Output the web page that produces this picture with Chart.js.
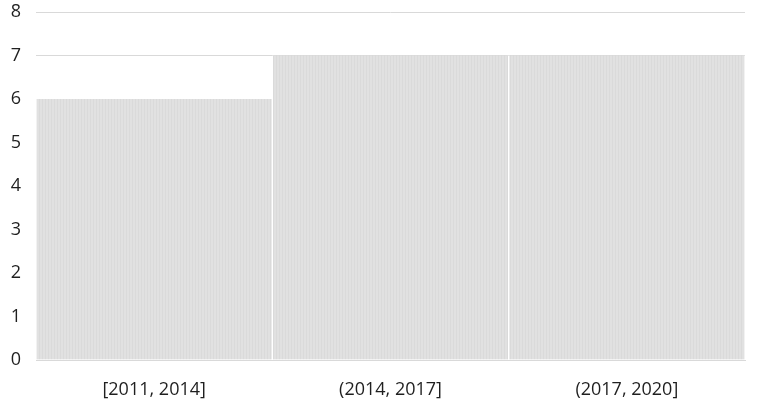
<!DOCTYPE html>
<html>
<head>
<meta charset="utf-8">
<script src="https://cdn.jsdelivr.net/npm/chart.js@4"></script>
<style>
  html, body { margin: 0; padding: 0; background: #ffffff; }
  #wrap { width: 758px; height: 415px; }
</style>
</head>
<body>
<div id="wrap"><canvas id="hist-chart" width="758" height="415"></canvas></div>
<script>
// ==============================
// Data
// ==============================
const binLabels = ["[2011, 2014]", "(2014, 2017]", "(2017, 2020]"];
const binCounts = [6, 7, 7];
const yTickMax = 8;

// ==============================
// Striped fill (fine vertical lines)
// ==============================
function makeStripes() {
    const c = document.createElement("canvas");
    c.width = 3;
    c.height = 4;
    const ctx = c.getContext("2d");
    ctx.fillStyle = "#e1e1e1";
    ctx.fillRect(0, 0, 3, 4);
    ctx.fillStyle = "#dadada";
    ctx.fillRect(0, 0, 1, 4);
    return ctx.createPattern(c, "repeat");
}

// ==============================
// Create Chart
// ==============================
const histCanvas = document.getElementById("hist-chart");
const tickFont = { family: "'Open Sans', 'Liberation Sans', sans-serif", size: 18 };

new Chart(histCanvas, {
    type: "bar",
    data: {
        labels: binLabels,
        datasets: [
            {
                data: binCounts,
                backgroundColor: makeStripes(),
                borderColor: "#ffffff",
                borderWidth: { left: 1, right: 1, top: 0, bottom: 0 },
                barPercentage: 1,
                categoryPercentage: 1
            }
        ]
    },
    options: {
        responsive: false,
        animation: false,
        layout: { padding: { top: 12, right: 13, bottom: 0, left: 0 } },
        plugins: {
            legend: { display: false },
            tooltip: { enabled: false }
        },
        scales: {
            x: {
                grid: { display: false, drawTicks: false },
                border: { color: "#d9d9d9", width: 1 },
                ticks: { color: "#1f1f1f", font: tickFont, padding: 19 },
                afterFit: function (scale) {
                    scale.height = 55;
                    scale.paddingLeft = 0;
                    scale.paddingRight = 0;
                }
            },
            y: {
                min: 0,
                max: yTickMax,
                grid: { color: "#d9d9d9", drawTicks: false },
                border: { display: false },
                ticks: { stepSize: 1, color: "#1f1f1f", font: tickFont, padding: 15 },
                afterFit: function (scale) {
                    scale.width = 36;
                    scale.paddingTop = 0;
                    scale.paddingBottom = 0;
                }
            }
        }
    }
});
</script>
</body>
</html>
